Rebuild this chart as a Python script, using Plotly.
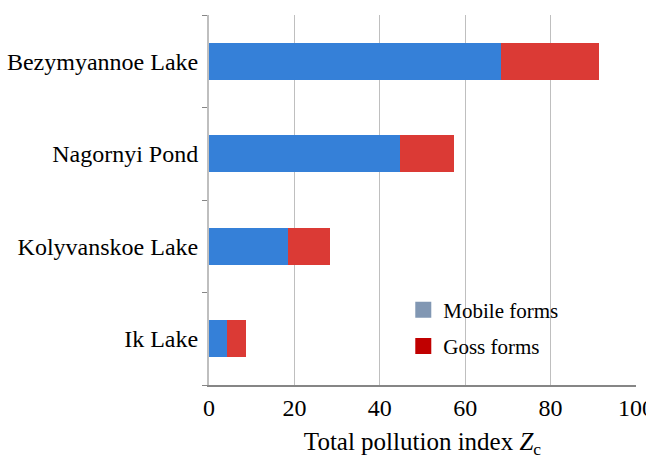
import plotly.graph_objects as go

lakes = ["Bezymyannoe Lake", "Nagornyi Pond", "Kolyvanskoe Lake", "Ik Lake"]
mobile = [68.4, 44.7, 18.5, 4.2]
gross = [22.9, 12.7, 9.8, 4.5]
x_ticks = [0, 20, 40, 60, 80, 100]
legend_names = ["Mobile forms", "Goss forms"]

bar_blue = "#3580D8"
bar_red = "#DB3A35"
leg_blue = "#8197B3"
leg_red = "#C00000"

fig = go.Figure()
fig.add_trace(go.Bar(y=lakes, x=mobile, orientation="h", marker=dict(color=bar_blue, line=dict(width=0)),
                     width=0.4, showlegend=False))
fig.add_trace(go.Bar(y=lakes, x=gross, orientation="h", marker=dict(color=bar_red, line=dict(width=0)),
                     width=0.4, showlegend=False))
for i, (name, c) in enumerate(zip(legend_names, [leg_blue, leg_red])):
    fig.add_trace(go.Scatter(x=[None], y=[None], mode="markers", name=name, legendgroup=f"g{i}",
                             marker=dict(symbol="square", size=16, color=c)))

font = "Liberation Serif"
fig.update_layout(
    width=646, height=459,
    margin=dict(l=209, r=10, t=15, b=74),
    barmode="stack",
    plot_bgcolor="white", paper_bgcolor="white",
    font=dict(family=font, size=24, color="black"),
    legend=dict(x=0.455, y=0.258, xanchor="left", yanchor="top", bgcolor="rgba(0,0,0,0)",
                font=dict(size=21), tracegroupgap=6, itemsizing="trace", traceorder="grouped"),
    xaxis=dict(range=[0, 100], tickvals=x_ticks, showgrid=True, gridcolor="#BFBFBF", gridwidth=1,
               showline=True, linecolor="#868686", linewidth=2, zeroline=False, automargin=False,
               tickfont=dict(size=24), ticks="", ticklen=0, ticklabeloverflow="allow",
               title=dict(text="Total pollution index <i>Z</i><sub>c</sub>", font=dict(size=25), standoff=20)),
    yaxis=dict(categoryorder="array", categoryarray=lakes[::-1], showline=True, linecolor="#BFBFBF",
               linewidth=2, ticks="outside", tickson="boundaries", ticklen=5, tickcolor="#868686",
               tickfont=dict(size=24), showgrid=False, ticklabelstandoff=4, automargin=False),
)
fig.write_html("out.html", config={"displayModeBar": False},
               post_script="document.body.style.margin='0';")
